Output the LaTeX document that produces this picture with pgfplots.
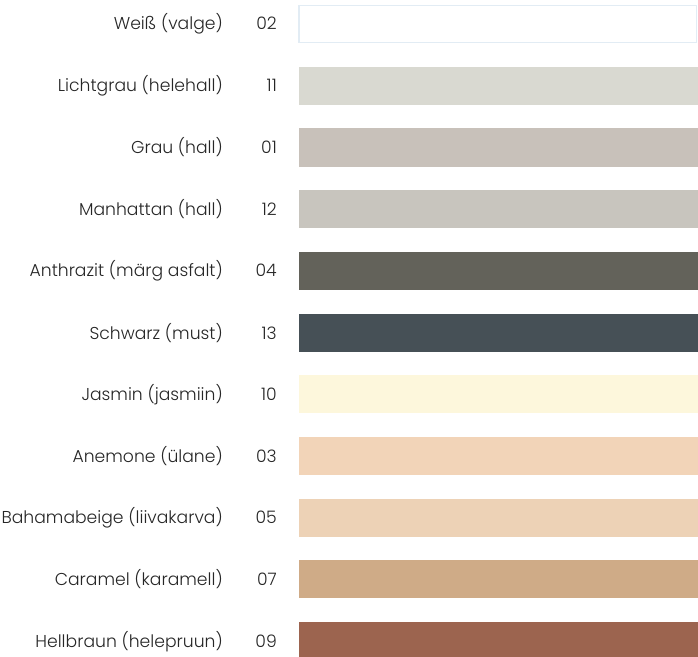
\documentclass[border=0pt]{standalone}
\usepackage{pgfplots}
\pgfplotsset{compat=1.18}
\usepackage{fontspec}
\setmainfont{Poppins}[UprightFont=* Light]
\definecolor{c02}{HTML}{FFFFFF}
\definecolor{b02}{HTML}{E2ECF4}
\definecolor{c11}{HTML}{D9D9D1}
\definecolor{c01}{HTML}{C8C1BA}
\definecolor{c12}{HTML}{C8C5BE}
\definecolor{c04}{HTML}{63625A}
\definecolor{c13}{HTML}{465056}
\definecolor{c10}{HTML}{FDF7DC}
\definecolor{c03}{HTML}{F2D4B8}
\definecolor{c05}{HTML}{EDD2B6}
\definecolor{c07}{HTML}{CFAB87}
\definecolor{c09}{HTML}{9C644F}
\definecolor{txt}{HTML}{262626}
\newcommand{\lab}[2]{#1\hspace{26pt}\makebox[28pt][r]{#2}}
\begin{document}
\begin{tikzpicture}
\begin{axis}[
  name=ax,
  scale only axis,
  width=399pt, height=656pt,
  xmin=0, xmax=1,
  ymin=-0.39, ymax=10.24,
  y dir=reverse,
  axis line style={draw=none},
  major tick length=0pt,
  xtick=\empty,
  ytick={0,1,2,3,4,5,6,7,8,9,10},
  yticklabels={
    {\lab{Weiß (valge)}{02}},
    {\lab{Lichtgrau (helehall)}{11}},
    {\lab{Grau (hall)}{01}},
    {\lab{Manhattan (hall)}{12}},
    {\lab{Anthrazit (märg asfalt)}{04}},
    {\lab{Schwarz (must)}{13}},
    {\lab{Jasmin (jasmiin)}{10}},
    {\lab{Anemone (ülane)}{03}},
    {\lab{Bahamabeige (liivakarva)}{05}},
    {\lab{Caramel (karamell)}{07}},
    {\lab{Hellbraun (helepruun)}{09}}},
  yticklabel style={font=\fontsize{17.2}{19}\selectfont, text=txt, inner sep=0pt, anchor=east, xshift=-22pt},
  clip=false,
]
\addplot[xbar, bar shift=0pt, bar width=0.6, fill=c02, draw=b02, line width=1.5pt] coordinates {(0.9962,0)};
\addplot[xbar, bar shift=0pt, bar width=0.616, fill=c11, draw=none] coordinates {(1,1)};
\addplot[xbar, bar shift=0pt, bar width=0.616, fill=c01, draw=none] coordinates {(1,2)};
\addplot[xbar, bar shift=0pt, bar width=0.616, fill=c12, draw=none] coordinates {(1,3)};
\addplot[xbar, bar shift=0pt, bar width=0.616, fill=c04, draw=none] coordinates {(1,4)};
\addplot[xbar, bar shift=0pt, bar width=0.616, fill=c13, draw=none] coordinates {(1,5)};
\addplot[xbar, bar shift=0pt, bar width=0.616, fill=c10, draw=none] coordinates {(1,6)};
\addplot[xbar, bar shift=0pt, bar width=0.616, fill=c03, draw=none] coordinates {(1,7)};
\addplot[xbar, bar shift=0pt, bar width=0.616, fill=c05, draw=none] coordinates {(1,8)};
\addplot[xbar, bar shift=0pt, bar width=0.616, fill=c07, draw=none] coordinates {(1,9)};
\addplot[xbar, bar shift=0pt, bar width=0.616, fill=c09, draw=none] coordinates {(1,10)};
\end{axis}
\pgfresetboundingbox
\path ([xshift=-299pt]ax.south west) rectangle (ax.north east);
\end{tikzpicture}
\end{document}
